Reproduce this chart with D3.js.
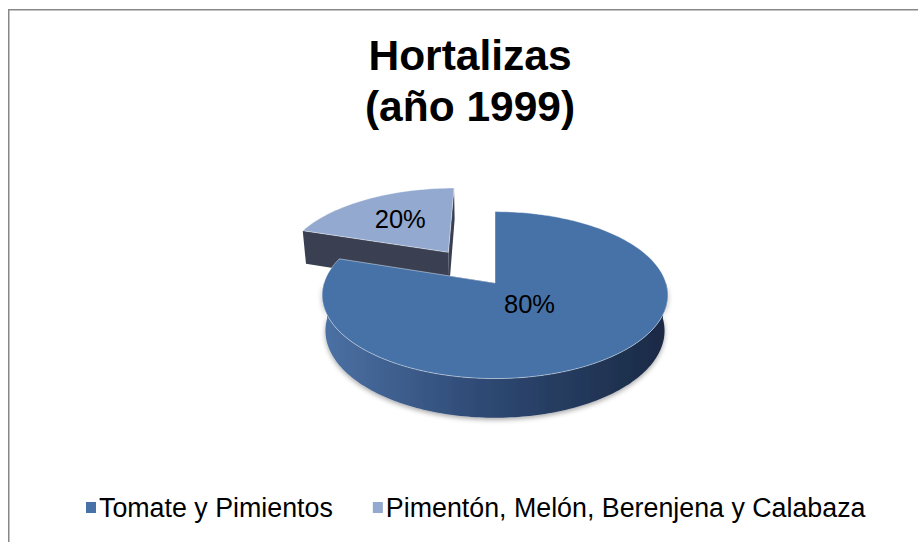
<!DOCTYPE html>
<html>
<head>
<meta charset="utf-8">
<script src="https://cdn.jsdelivr.net/npm/d3@7/dist/d3.min.js"></script>
<style>
  html, body { margin: 0; padding: 0; background: #fff; }
  svg { display: block; font-family: "Liberation Sans", Arial, sans-serif; }
</style>
</head>
<body>
<div id="chart"></div>
<script>
(function () {
  // chart data
  let titleLines = ['Hortalizas', '(año 1999)'];
  let categories = ['Tomate y Pimientos', 'Pimentón, Melón, Berenjena y Calabaza'];
  let values = [80, 20];
  let labels = ['80%', '20%'];

  let topColors = ['#4672a8', '#93a9cf'];
  let wallColors = ['#2a4268', '#3a4052'];
  let explode = [0, 0.49];
  let labelRadius = [0.33, 0.57];

  let width = 918;
  let height = 542;

  // projection of the 3d disc (radius 1) onto the screen
  let cx = 495, cy = 283, k = 171;
  let sinE = 0.478, cosE = Math.sqrt(1 - sinE * sinE);
  let D = cosE / 0.1446;
  let thick = 0.24;

  function proj(X, Y, Z) {
    let w = (D - (Y * sinE + Z * cosE)) / D;
    return [cx + (k * X) / w, cy + (k * (Z * sinE - Y * cosE)) / w];
  }

  let svg = d3
    .select('#chart')
    .append('svg')
    .attr('width', width)
    .attr('height', height);

  let defs = svg.append('defs');

  let left = proj(-1, -thick / 2, 0)[0];
  let right = proj(1, -thick / 2, 0)[0];
  let grad = defs
    .append('linearGradient')
    .attr('id', 'sideGrad')
    .attr('gradientUnits', 'userSpaceOnUse')
    .attr('x1', left)
    .attr('x2', right)
    .attr('y1', 0)
    .attr('y2', 0);
  grad.append('stop').attr('offset', 0).attr('stop-color', '#4b70a3');
  grad.append('stop').attr('offset', 0.45).attr('stop-color', '#2f4a75');
  grad.append('stop').attr('offset', 1).attr('stop-color', '#1a2a45');

  let shadow = defs.append('filter').attr('id', 'shadow')
    .attr('x', '-10%').attr('y', '-10%').attr('width', '120%').attr('height', '130%');
  shadow.append('feDropShadow')
    .attr('dx', 0).attr('dy', 2).attr('stdDeviation', 2.5)
    .attr('flood-color', '#000').attr('flood-opacity', 0.35);

  // chart frame
  svg
    .append('rect')
    .attr('x', 8.75)
    .attr('y', 9.75)
    .attr('width', width + 20)
    .attr('height', height + 20)
    .attr('fill', 'none')
    .attr('stroke', '#888')
    .attr('stroke-width', 1.5);

  // title
  svg
    .append('text')
    .attr('x', 470)
    .attr('y', 70)
    .attr('text-anchor', 'middle')
    .attr('font-size', 42.5)
    .attr('font-weight', 'bold')
    .selectAll('tspan')
    .data(titleLines)
    .enter()
    .append('tspan')
    .attr('x', 470)
    .attr('dy', (d, i) => (i === 0 ? 0 : 51))
    .text((d) => d);

  let pie = d3.pie().sort(null).startAngle(0).endAngle(2 * Math.PI);
  let arcs = pie(values).map((a, i) => {
    let mid = (a.startAngle + a.endAngle) / 2;
    a.ox = explode[i] * Math.sin(mid);
    a.oz = -explode[i] * Math.cos(mid);
    a.mid = mid;
    a.index = i;
    return a;
  });

  function rim(a, t, Y) {
    return proj(a.ox + Math.sin(t), Y, a.oz - Math.cos(t));
  }

  function samples(t0, t1) {
    let n = Math.max(2, Math.ceil(Math.abs(t1 - t0) / 0.02));
    return d3.range(n + 1).map((j) => t0 + ((t1 - t0) * j) / n);
  }

  let line = d3.line();

  function topPath(a) {
    let pts = [proj(a.ox, 0, a.oz)];
    samples(a.startAngle, a.endAngle).forEach((t) => pts.push(rim(a, t, 0)));
    return line(pts) + 'Z';
  }

  function wallPath(a, t) {
    return line([
      proj(a.ox, 0, a.oz),
      rim(a, t, 0),
      rim(a, t, -thick),
      proj(a.ox, -thick, a.oz)
    ]) + 'Z';
  }

  function sidePath(a) {
    let s = Math.max(a.startAngle, Math.PI / 2);
    let e = Math.min(a.endAngle, (3 * Math.PI) / 2);
    if (e <= s) return null;
    let ts = samples(s, e);
    let pts = ts.map((t) => rim(a, t, 0));
    ts.slice().reverse().forEach((t) => pts.push(rim(a, t, -thick)));
    return line(pts) + 'Z';
  }

  // draw the farthest slice first
  let order = arcs.slice().sort((p, q) => p.oz - q.oz);

  let pieG = svg.append('g');

  order.forEach((a) => {
    let g = pieG.append('g').attr('class', 'slice');
    [a.startAngle, a.endAngle].forEach((t) => {
      g.append('path')
        .attr('d', wallPath(a, t))
        .attr('fill', wallColors[a.index]);
    });
    let side = sidePath(a);
    if (side) {
      g.append('path')
        .attr('d', side)
        .attr('fill', 'url(#sideGrad)')
        .attr('filter', 'url(#shadow)');
    }
    g.append('path')
      .attr('d', topPath(a))
      .attr('fill', topColors[a.index])
      .attr('stroke', '#fff')
      .attr('stroke-opacity', 0.55)
      .attr('stroke-width', 0.8);
  });

  // data labels
  pieG
    .selectAll('text.label')
    .data(arcs)
    .enter()
    .append('text')
    .attr('class', 'label')
    .attr('transform', (a) => {
      let r = labelRadius[a.index];
      let p = proj(a.ox + r * Math.sin(a.mid), 0, a.oz - r * Math.cos(a.mid));
      return `translate(${p[0]}, ${p[1]})`;
    })
    .attr('text-anchor', 'middle')
    .attr('dy', '0.3em')
    .attr('font-size', 25.5)
    .attr('fill', '#000')
    .text((a) => labels[a.index]);

  // legend
  let legend = svg.append('g').attr('transform', 'translate(86, 502)');
  let xPos = 0;
  categories.forEach((c, i) => {
    let item = legend.append('g').attr('transform', `translate(${xPos}, 0)`);
    item
      .append('rect')
      .attr('width', 10)
      .attr('height', 11)
      .attr('fill', topColors[i]);
    let t = item
      .append('text')
      .attr('x', 13)
      .attr('y', 15)
      .attr('font-size', 26.8)
      .attr('fill', '#000')
      .text(c);
    xPos += 13 + t.node().getComputedTextLength() + 40;
  });
})();
</script>
</body>
</html>
